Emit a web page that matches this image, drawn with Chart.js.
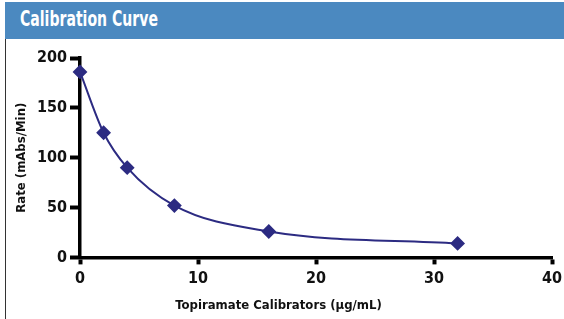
<!DOCTYPE html>
<html>
<head>
<meta charset="utf-8">
<script src="https://cdn.jsdelivr.net/npm/chart.js@4.4.1/dist/chart.umd.min.js"></script>
<style>
  html, body { margin: 0; padding: 0; background: #fff; }
  body { width: 564px; height: 319px; position: relative; overflow: hidden; }
  .header {
    position: absolute; left: 5px; top: 2px; width: 559px; height: 37px;
    background: #4b89c0;
  }
  .header span {
    position: absolute; left: 15px; top: 0; display: inline-block;
    color: #fff; font-family: "DejaVu Sans Condensed", "DejaVu Sans", sans-serif; font-weight: bold;
    font-size: 22px; line-height: 34px; white-space: nowrap;
    transform: scaleX(0.71); transform-origin: left center;
  }
  .frame { position: absolute; left: 5px; top: 39px; width: 0; height: 280px; border-left: 1.5px solid #333; }
  .wrap { position: absolute; left: 0; top: 40px; width: 564px; height: 279px; }
</style>
</head>
<body>
<div class="header"><span>Calibration Curve</span></div>
<div class="frame"></div>
<div class="wrap"><canvas id="calChart"></canvas></div>
<script>
// calibrator concentrations (µg/mL) and measured rates (mAbs/Min)
const concentrations = [0, 2, 4, 8, 16, 32];
const rates = [186, 125, 90, 52, 26, 14];
const xTicks = [0, 10, 20, 30, 40];
const yTicks = [0, 50, 100, 150, 200];

const navy = '#2c2b82';
const fontName = '"DejaVu Sans Condensed", "DejaVu Sans", sans-serif';
const tickFont = { family: fontName, weight: 'bold', size: 16 };
const titleFont = { family: fontName, weight: 'bold', size: 13 };

const ctx = document.getElementById('calChart').getContext('2d');

new Chart(ctx, {
    type: 'line',
    data: {
        datasets: [{
            label: 'Calibration',
            data: concentrations.map((c, i) => ({ x: c, y: rates[i] })),
            borderColor: navy,
            backgroundColor: navy,
            borderWidth: 2,
            cubicInterpolationMode: 'monotone',
            pointStyle: 'rectRot',
            pointRadius: 6,
            pointHoverRadius: 6,
            clip: false
        }]
    },
    options: {
        responsive: true,
        maintainAspectRatio: false,
        animation: false,
        layout: { padding: { left: 5, right: 12, top: 18, bottom: 4 } },
        plugins: {
            legend: { display: false },
            tooltip: { enabled: false },
            title: {
                display: true,
                position: 'bottom',
                text: 'Topiramate Calibrators (µg/mL)',
                color: '#111',
                font: titleFont,
                padding: { top: 2, bottom: 2 }
            }
        },
        scales: {
            x: {
                type: 'linear',
                min: 0,
                max: 40,
                afterBuildTicks: (scale) => { scale.ticks = xTicks.map(v => ({ value: v })); },
                afterFit: (scale) => { scale.height = 38; scale.paddingRight = 0; scale.paddingLeft = 0; },
                ticks: { color: '#111', font: tickFont, padding: 5 },
                grid: { drawOnChartArea: false, tickLength: 7, tickWidth: 4, tickColor: '#000' },
                border: { width: 3.5, color: '#000' }
            },
            y: {
                min: 0,
                max: 200,
                afterBuildTicks: (scale) => { scale.ticks = yTicks.map(v => ({ value: v })); },
                afterFit: (scale) => { scale.width = 75; },
                ticks: { color: '#111', font: tickFont, padding: 3 },
                grid: { drawOnChartArea: false, tickLength: 10, tickWidth: 4, tickColor: '#000' },
                border: { width: 3.5, color: '#000' },
                title: {
                    display: true,
                    text: 'Rate (mAbs/Min)',
                    color: '#111',
                    font: titleFont,
                    padding: { top: 9, bottom: 0 }
                }
            }
        }
    }
});
</script>
</body>
</html>
